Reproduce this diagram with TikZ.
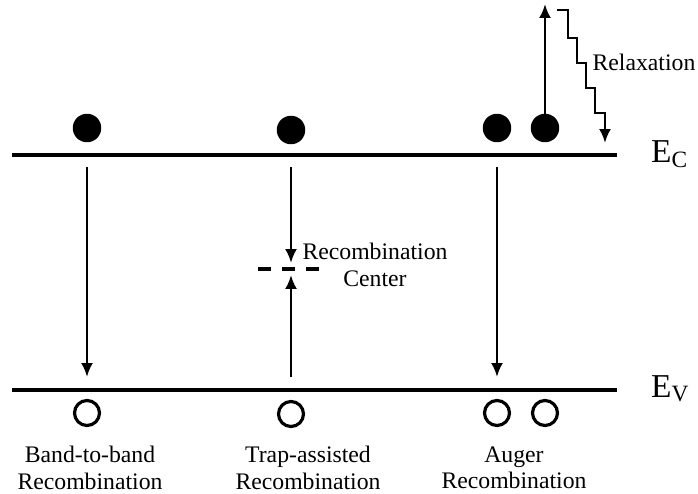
\documentclass[tikz,border=0pt]{standalone}
\usepackage{fontspec}
\setmainfont{Liberation Serif}
\usetikzlibrary{arrows.meta}

\begin{document}
\begin{tikzpicture}[
    x=0.02cm, y=-0.02cm,
    band/.style={line width=2.1pt},
    electron/.style={circle, fill=black, minimum size=0.57cm, inner sep=0pt},
    hole/.style={circle, draw, line width=1.8pt, minimum size=0.5cm, inner sep=0pt},
    arrow/.style={-{Latex[length=2.8mm, width=2.4mm]}, line width=1.4pt},
    txt/.style={align=center, font=\fontsize{13.5}{15}\selectfont},
    level/.style={anchor=base west, font=\fontsize{19}{21}\selectfont}
]
\useasboundingbox (0,0) rectangle (698,494);

% band edges
\coordinate (ecL) at (12,155);
\coordinate (ecR) at (617,155);
\coordinate (evL) at (12,390);
\coordinate (evR) at (617,390);
\draw[band] (ecL) -- (ecR);
\draw[band] (evL) -- (evR);
\node[level] (ec) at (645,162) {E\textsubscript{C}};
\node[level] (ev) at (645,397) {E\textsubscript{V}};

% electrons and holes
\node[electron] (e1) at (87,128) {};
\node[electron] (e2) at (291,130) {};
\node[electron] (e3) at (497,128) {};
\node[electron] (e4) at (545,128) {};
\node[hole] (h1) at (87,413) {};
\node[hole] (h2) at (291,414) {};
\node[hole] (h3) at (497,413) {};
\node[hole] (h4) at (545,413) {};

% band-to-band
\coordinate (bbTop) at (87,167);
\coordinate (bbBot) at (87,377);
\draw[arrow] (bbTop) -- (bbBot);

% trap-assisted
\coordinate (trTop) at (291,167);
\coordinate (trMidA) at (291,263);
\coordinate (trBot) at (291,377);
\coordinate (trMidB) at (291,275);
\coordinate (rcL) at (258,269);
\coordinate (rcR) at (320,269);
\draw[arrow] (trTop) -- (trMidA);
\draw[arrow] (trBot) -- (trMidB);
\draw[line width=1.9pt, dash pattern=on 0.27cm off 0.21cm] (rcL) -- (rcR);
\node[txt] (rc) at (375,265) {Recombination\\Center};

% auger
\coordinate (auTop) at (497,167);
\coordinate (auBot) at (497,377);
\coordinate (upBot) at (545,114);
\coordinate (upTop) at (545,4);
\draw[arrow] (auTop) -- (auBot);
\draw[arrow] (upBot) -- (upTop);
\coordinate (stStart) at (557,10);
\draw[arrow] (stStart) -- ++(11,0) -- ++(0,28) -- ++(9,0) -- ++(0,25) -- ++(9,0)
    -- ++(0,25) -- ++(9,0) -- ++(0,25) -- ++(10,0) -- ++(0,30);
\node[txt] (relax) at (644,62) {Relaxation};

% captions
\node[txt] (bb) at (90,468) {Band-to-band\\Recombination};
\node[txt] (tr) at (308,468) {Trap-assisted\\Recombination};
\node[txt] (au) at (514,468) {Auger\\Recombination};
\end{tikzpicture}
\end{document}
